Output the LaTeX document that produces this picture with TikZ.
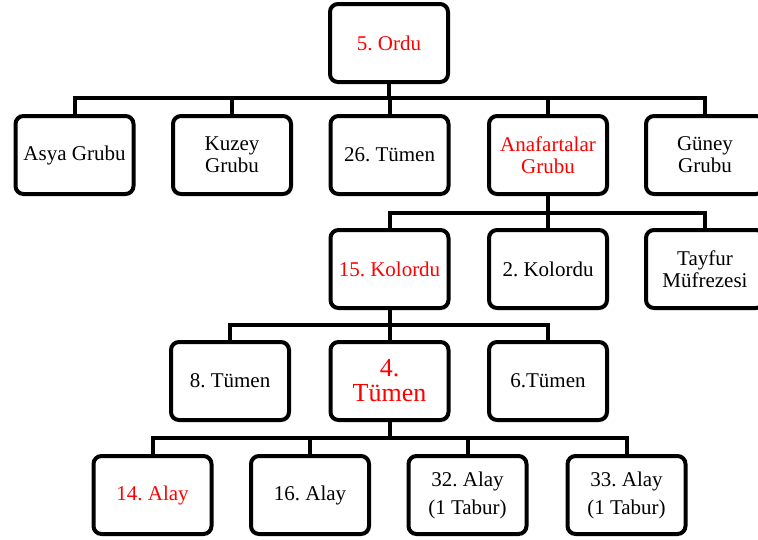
\documentclass[tikz,border=0pt]{standalone}
\usepackage{fontspec}
\setmainfont{Liberation Serif}
\frenchspacing
\tikzset{
	birlik/.style={draw, line width=4pt, rounded corners=8pt, minimum width=118pt, minimum height=78pt, align=center, inner sep=2pt, font=\fontsize{21}{22}\selectfont},
	kritik/.style={text=red},
	hat/.style={line width=4pt}
}
\begin{document}
\begin{tikzpicture}[x=1pt, y=-1pt]
		\useasboundingbox ( 0, 0 ) rectangle ( 758, 539 );

		% ordu
		\node [birlik, kritik] (ordu) at ( 389, 43 ) {5. Ordu};

		% gruplar
		\node [birlik] (asya) at ( 74.5, 155 ) {Asya Grubu};
		\node [birlik] (kuzey) at ( 232, 155 ) {Kuzey\\Grubu};
		\node [birlik] (tumen26) at ( 389.5, 155 ) {26. Tümen};
		\node [birlik, kritik] (anafartalar) at ( 548, 155 ) {Anafartalar\\Grubu};
		\node [birlik] (guney) at ( 705, 155 ) {Güney\\Grubu};
		\coordinate (bus1) at ( 389, 98 );
		\draw [hat] (ordu.south) -- (bus1) -| (asya.north);
		\draw [hat] (bus1) -| (kuzey.north);
		\draw [hat] (bus1) -| (tumen26.north);
		\draw [hat] (bus1) -| (anafartalar.north);
		\draw [hat] (bus1) -| (guney.north);

		% kolordular
		\node [birlik, kritik] (kolordu15) at ( 389.5, 269 ) {15. Kolordu};
		\node [birlik] (kolordu2) at ( 548, 269 ) {2. Kolordu};
		\node [birlik] (tayfur) at ( 705, 269 ) {Tayfur\\Müfrezesi};
		\coordinate (bus2) at ( 548, 213 );
		\draw [hat] (anafartalar.south) -- (bus2) -| (kolordu15.north);
		\draw [hat] (bus2) -| (kolordu2.north);
		\draw [hat] (bus2) -| (tayfur.north);

		% tumenler
		\node [birlik] (tumen8) at ( 230, 381 ) {8. Tümen};
		\node [birlik, kritik, font=\fontsize{26}{25}\selectfont] (tumen4) at ( 389.5, 381 ) {4.\\Tümen};
		\node [birlik] (tumen6) at ( 548, 381 ) {6.Tümen};
		\coordinate (bus3) at ( 389.5, 325 );
		\draw [hat] (kolordu15.south) -- (bus3) -| (tumen8.north);
		\draw [hat] (bus3) -| (tumen4.north);
		\draw [hat] (bus3) -| (tumen6.north);

		% alaylar
		\node [birlik, kritik] (alay14) at ( 152.5, 495 ) {14. Alay};
		\node [birlik] (alay16) at ( 310, 495 ) {16. Alay};
		\node [birlik] (alay32) at ( 467.5, 495 ) {32. Alay\\[6pt](1 Tabur)};
		\node [birlik] (alay33) at ( 626.5, 495 ) {33. Alay\\[6pt](1 Tabur)};
		\coordinate (bus4) at ( 389.5, 438 );
		\draw [hat] (tumen4.south) -- (bus4) -| (alay14.north);
		\draw [hat] (bus4) -| (alay16.north);
		\draw [hat] (bus4) -| (alay32.north);
		\draw [hat] (bus4) -| (alay33.north);
	\end{tikzpicture}
\end{document}
